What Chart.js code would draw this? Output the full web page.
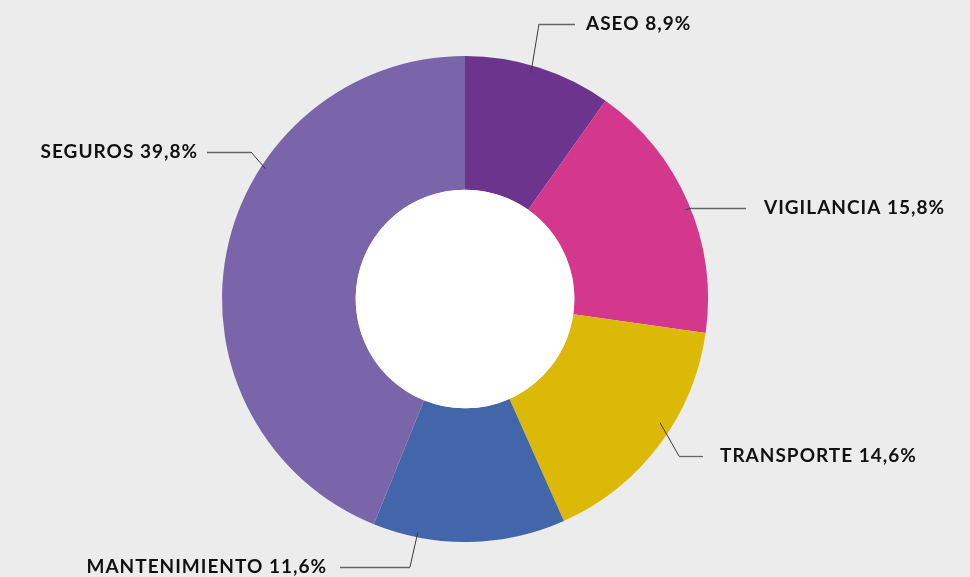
<!DOCTYPE html>
<html>
<head>
<meta charset="utf-8">
<script src="https://cdn.jsdelivr.net/npm/chart.js@4"></script>
<style>
  body { margin: 0; background: #ececec; }
  #wrap { width: 970px; height: 577px; }
</style>
</head>
<body>
<div id="wrap"><canvas id="myChart" width="970" height="577"></canvas></div>
<script>
'use strict'

// data
const categories = ['ASEO', 'VIGILANCIA', 'TRANSPORTE', 'MANTENIMIENTO', 'SEGUROS'];
const shares = [8.9, 15.8, 14.6, 11.6, 39.8];
const sliceColors = ['#6c348c', '#d4388c', '#dcb906', '#4366aa', '#7b65aa'];

// where each label goes (frac = spot along the slice where the leader starts)
const labelLayout = [
  { frac: 0.46, rad: 0.97, elbowX: 539, elbowY: 24, endX: 575, textX: 586, side: 'right' },
  { frac: 0.52, rad: 0.98, elbowX: 692, elbowY: 208, endX: 746, textX: 764, side: 'right' },
  { frac: 0.42, rad: 0.95, elbowX: 679, elbowY: 456, endX: 703, textX: 720, side: 'right' },
  { frac: 0.77, rad: 0.98, elbowX: 410, elbowY: 567, endX: 340, textX: 326, side: 'left' },
  { frac: 0.64, rad: 0.98, elbowX: 251, elbowY: 152, endX: 207, textX: 197, side: 'left' }
];

const LABEL_FONT = 'bold 19px "Lato", sans-serif';

// white disc in the middle + leader labels
const leaderLabels = {
  id: 'leaderLabels',
  afterDatasetsDraw(chart) {
    const ctx = chart.ctx;
    const meta = chart.getDatasetMeta(0);
    const first = meta.data[0];
    ctx.save();
    ctx.fillStyle = '#ffffff';
    ctx.beginPath();
    ctx.arc(first.x, first.y, first.innerRadius, 0, Math.PI * 2);
    ctx.fill();

    meta.data.forEach((arc, i) => {
      let lay = labelLayout[i];
      let ang = arc.startAngle + (arc.endAngle - arc.startAngle) * lay.frac;
      let r = arc.outerRadius * lay.rad;
      let sx = arc.x + Math.cos(ang) * r;
      let sy = arc.y + Math.sin(ang) * r;

      ctx.strokeStyle = '#3a3a3a';
      ctx.lineWidth = 1;
      ctx.beginPath();
      ctx.moveTo(sx, sy);
      ctx.lineTo(lay.elbowX, lay.elbowY);
      ctx.stroke();
      ctx.strokeStyle = '#666666';
      ctx.lineWidth = 1.3;
      ctx.beginPath();
      ctx.moveTo(lay.elbowX, lay.elbowY + 0.5);
      ctx.lineTo(lay.endX, lay.elbowY + 0.5);
      ctx.stroke();

      ctx.fillStyle = '#111111';
      ctx.font = LABEL_FONT;
      ctx.letterSpacing = '1px';
      ctx.textBaseline = 'middle';
      let txt = categories[i] + ' ' + shares[i].toFixed(1).replace('.', ',') + '%';
      // letterSpacing adds a trailing gap, so right-aligned text is placed by width
      let w = ctx.measureText(txt).width;
      ctx.textAlign = 'left';
      let tx = lay.side === 'right' ? lay.textX : lay.textX - w + 1;
      ctx.fillText(txt, tx, lay.elbowY);
    });
    ctx.restore();
  }
};

let config = {
  type: 'doughnut',
  data: {
    labels: categories,
    datasets: [{
      data: shares,
      backgroundColor: sliceColors,
      borderWidth: 0
    }]
  },
  options: {
    responsive: false,
    animation: false,
    cutout: '45%',
    layout: {
      padding: { top: 56, bottom: 35, left: 222, right: 262 }
    },
    plugins: {
      legend: { display: false },
      tooltip: { enabled: false }
    }
  },
  plugins: [leaderLabels]
};

const ctx = document.getElementById('myChart').getContext('2d');
const myChart = new Chart(ctx, config);
</script>
</body>
</html>
